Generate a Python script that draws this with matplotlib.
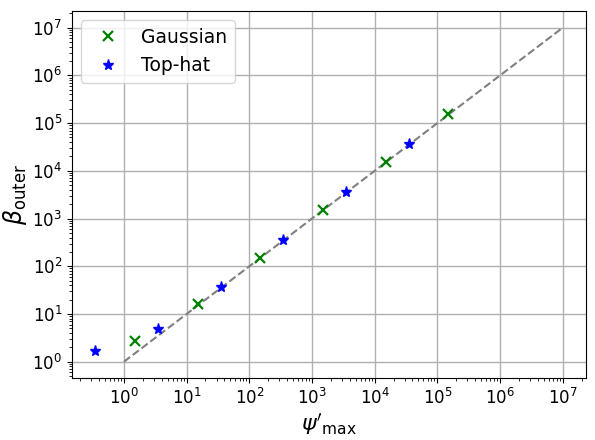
import matplotlib.pyplot as plt
import numpy as np

# Gaussian profile
gauss_psi = [1.48, 15.0, 150.0, 1480.0, 15000.0, 150000.0]
gauss_beta = [2.7, 16.2, 151.0, 1540.0, 15400.0, 156000.0]

# Top-hat profile
tophat_psi = [0.35, 3.5, 35.0, 350.0, 3500.0, 35500.0]
tophat_beta = [1.64, 4.85, 37.0, 360.0, 3650.0, 36700.0]

# reference line beta = psi
line_x = np.array([1.0, 1.0e7])

fig, ax = plt.subplots(figsize=(5.95, 4.4), dpi=100)

ax.plot(line_x, line_x, "--", color="gray", lw=1.5)
ax.plot(gauss_psi, gauss_beta, "x", color="green", ms=7, mew=1.6, label="Gaussian")
ax.plot(tophat_psi, tophat_beta, "*", color="blue", ms=8, lw=0, label="Top-hat")

ax.set_xscale("log")
ax.set_yscale("log")
ax.grid(True, which="major", color="#b0b0b0", lw=1.0)
ax.set_xlabel(r"$\psi'_{\mathrm{max}}$", fontsize=16, labelpad=2)
ax.set_ylabel(r"$\beta_{\mathrm{outer}}$", fontsize=17, labelpad=2)
ax.tick_params(labelsize=12)
ax.legend(fontsize=13.5, loc="upper left")

fig.subplots_adjust(left=0.121, right=0.985, top=0.975, bottom=0.14)
fig.savefig("out.png", dpi=100)
